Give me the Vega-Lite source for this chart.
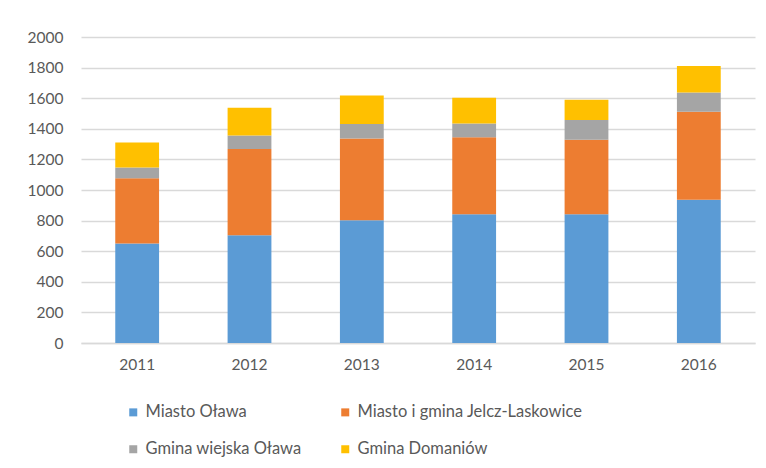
{
  "$schema": "https://vega.github.io/schema/vega-lite/v6.json",
  "autosize": {"type": "none"},
  "width": 674,
  "height": 306,
  "padding": {"left": 81, "top": 37, "right": 11, "bottom": 125},
  "background": "white",
  "config": {
    "view": {"stroke": null},
    "font": "Lato",
    "axis": {"labelColor": "#595959", "labelFont": "Lato", "labelFontSize": 15.5, "ticks": false, "domain": false, "title": null},
    "legend": {"labelColor": "#595959", "labelFont": "Lato", "labelFontSize": 16.5, "labelLimit": 0}
  },
  "data": {
    "values": [
      {"year": "2011", "series": "Miasto Oława", "k": 1, "value": 650},
      {"year": "2011", "series": "Miasto i gmina Jelcz-Laskowice", "k": 2, "value": 427},
      {"year": "2011", "series": "Gmina wiejska Oława", "k": 3, "value": 70},
      {"year": "2011", "series": "Gmina Domaniów", "k": 4, "value": 163},
      {"year": "2012", "series": "Miasto Oława", "k": 1, "value": 704},
      {"year": "2012", "series": "Miasto i gmina Jelcz-Laskowice", "k": 2, "value": 564},
      {"year": "2012", "series": "Gmina wiejska Oława", "k": 3, "value": 89},
      {"year": "2012", "series": "Gmina Domaniów", "k": 4, "value": 180},
      {"year": "2013", "series": "Miasto Oława", "k": 1, "value": 803},
      {"year": "2013", "series": "Miasto i gmina Jelcz-Laskowice", "k": 2, "value": 534},
      {"year": "2013", "series": "Gmina wiejska Oława", "k": 3, "value": 94},
      {"year": "2013", "series": "Gmina Domaniów", "k": 4, "value": 187},
      {"year": "2014", "series": "Miasto Oława", "k": 1, "value": 842},
      {"year": "2014", "series": "Miasto i gmina Jelcz-Laskowice", "k": 2, "value": 502},
      {"year": "2014", "series": "Gmina wiejska Oława", "k": 3, "value": 91},
      {"year": "2014", "series": "Gmina Domaniów", "k": 4, "value": 168},
      {"year": "2015", "series": "Miasto Oława", "k": 1, "value": 842},
      {"year": "2015", "series": "Miasto i gmina Jelcz-Laskowice", "k": 2, "value": 487},
      {"year": "2015", "series": "Gmina wiejska Oława", "k": 3, "value": 128},
      {"year": "2015", "series": "Gmina Domaniów", "k": 4, "value": 133},
      {"year": "2016", "series": "Miasto Oława", "k": 1, "value": 936},
      {"year": "2016", "series": "Miasto i gmina Jelcz-Laskowice", "k": 2, "value": 575},
      {"year": "2016", "series": "Gmina wiejska Oława", "k": 3, "value": 126},
      {"year": "2016", "series": "Gmina Domaniów", "k": 4, "value": 174}
    ]
  },
  "mark": {"type": "bar"},
  "encoding": {
    "x": {
      "field": "year", "type": "ordinal",
      "scale": {"paddingInner": 0.61, "paddingOuter": 0.305},
      "axis": {"labelAngle": 0, "labelPadding": 14, "grid": false, "domain": true, "domainColor": "#D9D9D9", "domainWidth": 1.5}
    },
    "y": {
      "field": "value", "type": "quantitative", "stack": "zero",
      "scale": {"domain": [0, 2000]},
      "axis": {"values": [0, 200, 400, 600, 800, 1000, 1200, 1400, 1600, 1800, 2000], "format": "d", "labelPadding": 18, "gridColor": "#D9D9D9", "gridWidth": 1.5}
    },
    "color": {
      "field": "series", "type": "nominal",
      "scale": {
        "domain": ["Miasto Oława", "Miasto i gmina Jelcz-Laskowice", "Gmina wiejska Oława", "Gmina Domaniów"],
        "range": ["#5B9BD5", "#ED7D31", "#A5A5A5", "#FFC000"]
      },
      "legend": {
        "title": null, "orient": "none", "legendX": 44, "legendY": 367,
        "direction": "horizontal", "columns": 2, "columnPadding": 35, "rowPadding": 20,
        "symbolType": "square", "symbolSize": 64, "symbolStrokeWidth": 0, "labelOffset": 4
      }
    },
    "order": {"field": "k", "type": "quantitative", "sort": "ascending"}
  }
}
